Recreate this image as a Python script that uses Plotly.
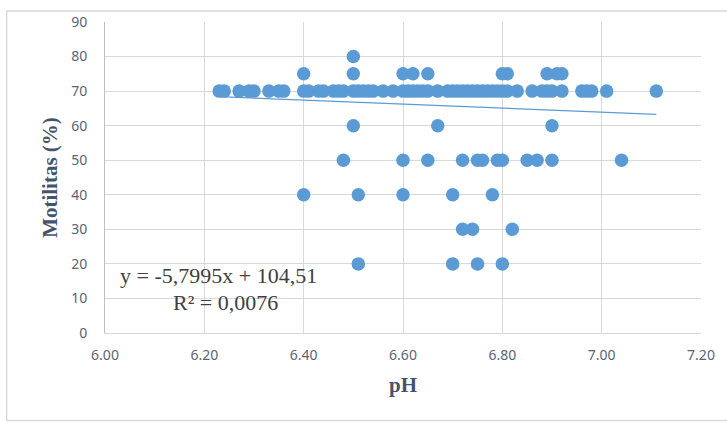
import plotly.graph_objects as go

# pH values and motility (%)
ph_70 = [6.23, 6.24, 6.27, 6.29, 6.30, 6.33, 6.35, 6.36, 6.40, 6.41, 6.43, 6.44, 6.46,
         6.47, 6.48, 6.50, 6.51, 6.52, 6.53, 6.54, 6.56, 6.58, 6.60, 6.61, 6.62, 6.63,
         6.64, 6.65, 6.67, 6.69, 6.70, 6.71, 6.72, 6.73, 6.74, 6.75, 6.76, 6.77, 6.78,
         6.79, 6.80, 6.81, 6.83, 6.86, 6.88, 6.89, 6.90, 6.92, 6.96, 6.97, 6.98, 7.01, 7.11]
ph_75 = [6.40, 6.50, 6.60, 6.62, 6.65, 6.80, 6.81, 6.89, 6.91, 6.92]
ph_80 = [6.50]
ph_60 = [6.50, 6.67, 6.90]
ph_50 = [6.48, 6.60, 6.65, 6.72, 6.75, 6.76, 6.79, 6.80, 6.85, 6.87, 6.90, 7.04]
ph_40 = [6.40, 6.51, 6.60, 6.70, 6.78]
ph_30 = [6.72, 6.74, 6.82]
ph_20 = [6.51, 6.70, 6.75, 6.80]

groups = [(ph_70, 70), (ph_75, 75), (ph_80, 80), (ph_60, 60), (ph_50, 50),
          (ph_40, 40), (ph_30, 30), (ph_20, 20)]
x_vals = [p for g, v in groups for p in g]
y_vals = [v for g, v in groups for p in g]

slope = -5.7995
intercept = 104.51
eq_text = "y = -5,7995x + 104,51"
r2_text = "R² = 0,0076"

x_ticks = [6.00, 6.20, 6.40, 6.60, 6.80, 7.00, 7.20]
y_ticks = list(range(0, 91, 10))

blue = "#5b9bd5"
fig = go.Figure()
fig.add_trace(go.Scatter(x=x_vals, y=y_vals, mode="markers",
                         marker=dict(color=blue, size=13.5), showlegend=False))
xmin, xmax = min(x_vals), max(x_vals)
fig.add_trace(go.Scatter(x=[xmin, xmax], y=[slope * xmin + intercept, slope * xmax + intercept],
                         mode="lines", line=dict(color=blue, width=1.3),
                         showlegend=False))

fig.add_annotation(x=6.026, y=16.5, xref="x", yref="y", text=eq_text, showarrow=False,
                   xanchor="left", yanchor="middle",
                   font=dict(family="Liberation Serif", size=22, color="#404040"))
fig.add_annotation(x=6.242, y=8.8, xref="x", yref="y", text=r2_text, showarrow=False,
                   xanchor="center", yanchor="middle",
                   font=dict(family="Liberation Serif", size=22, color="#404040"))

fig.add_shape(type="rect", xref="paper", yref="paper", x0=-0.165, x1=1.045, y0=-0.281, y1=1.035,
              line=dict(color="#d9d9d9", width=1.5))

tick_font = dict(family="Noto Sans", size=14, color="#5a6476")
fig.update_xaxes(range=[6.0, 7.2], tickvals=x_ticks, ticktext=[f"{t:.2f}" for t in x_ticks],
                 showgrid=True, gridcolor="#d9d9d9", gridwidth=1, zeroline=False,
                 showline=True, linecolor="#d9d9d9", tickfont=tick_font, ticks="",
                 ticklabelstandoff=9,
                 title=dict(text="<b>pH</b>", standoff=14,
                            font=dict(family="Liberation Serif", size=21, color="#44546a")))
fig.update_yaxes(range=[0, 90], tickvals=y_ticks, showgrid=True, gridcolor="#d9d9d9",
                 gridwidth=1, zeroline=False, showline=True, linecolor="#bfbfbf",
                 tickfont=tick_font, ticks="", ticklabelstandoff=14,
                 title=dict(text="<b>Motilitas (%)</b>", standoff=7,
                            font=dict(family="Liberation Serif", size=21, color="#44546a")))
fig.update_layout(width=727, height=425, margin=dict(l=105, r=22, t=16, b=92),
                  paper_bgcolor="white", plot_bgcolor="white")
fig.write_html("out.html", config={"displayModeBar": False},
               post_script="document.body.style.margin='0';")
